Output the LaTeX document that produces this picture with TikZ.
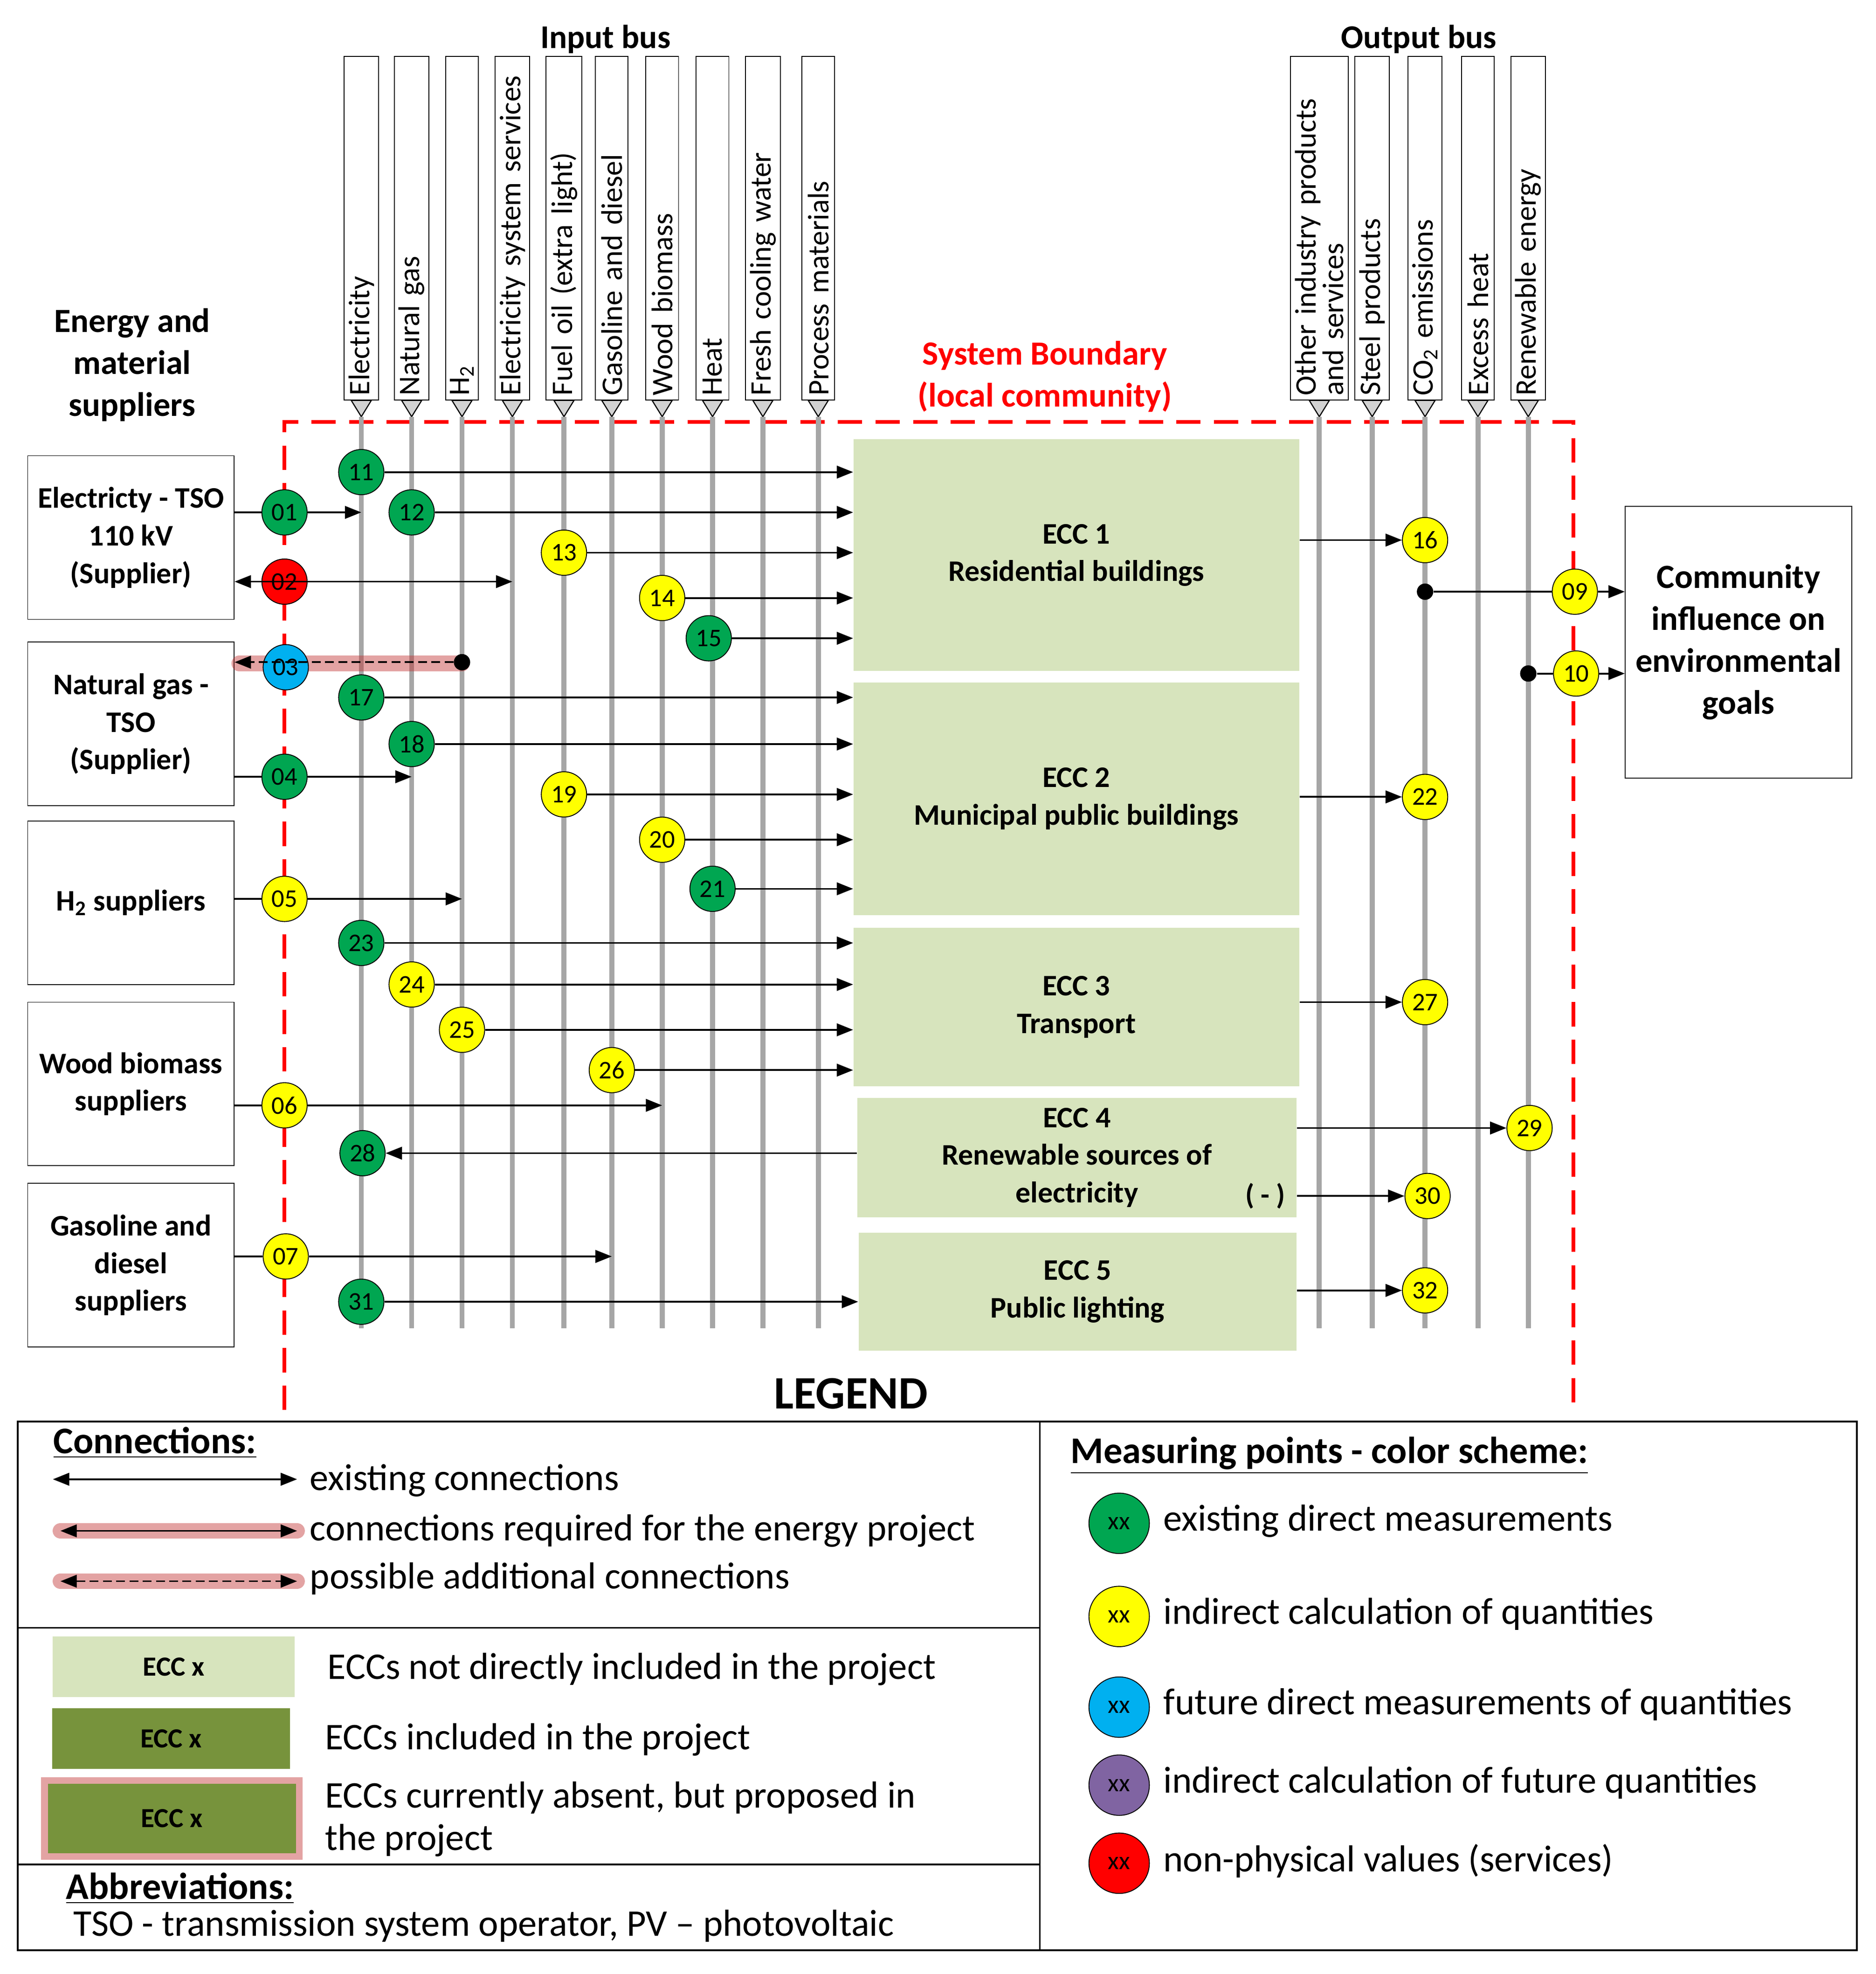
\documentclass[tikz,border=0pt]{standalone}
\usepackage{fontspec}
\setmainfont{Carlito}
\usetikzlibrary{arrows.meta,calc}
\definecolor{mgreen}{HTML}{00A651}
\definecolor{myellow}{HTML}{FFFF00}
\definecolor{mblue}{HTML}{00B0F0}
\definecolor{mpurple}{HTML}{8064A2}
\definecolor{mred}{HTML}{FF0000}
\definecolor{ecclight}{HTML}{D7E4BD}
\definecolor{eccdark}{HTML}{77933C}
\definecolor{busgray}{HTML}{A6A6A6}
\tikzset{
 bus/.style={draw,rotate=90,anchor=west,minimum height=0.52cm,text width=5.32cm,align=left,inner sep=2pt,font=\fontsize{13.5}{12}\selectfont},
 tri/.style={draw,fill=gray!35,line width=0.5pt},
 busline/.style={busgray,line width=2.3pt},
 sup/.style={draw,minimum width=3.28cm,minimum height=2.6cm,align=center,font=\bfseries\fontsize{13.5}{17}\selectfont},
 ecc/.style={fill=ecclight,align=center,font=\bfseries\fontsize{13.5}{17}\selectfont,inner sep=0},
 mp/.style={circle,draw,minimum size=0.72cm,inner sep=0,font=\fontsize{11.5}{11}\selectfont},
 G/.style={mp,fill=mgreen}, Y/.style={mp,fill=myellow}, B/.style={mp,fill=mblue},
 R/.style={mp,fill=mred}, P/.style={mp,fill=mpurple},
 arr/.style={-{Triangle[length=2.6mm,width=2mm]},line width=0.8pt},
 darr/.style={{Triangle[length=2.6mm,width=2mm]}-{Triangle[length=2.6mm,width=2mm]},line width=0.8pt},
 glow/.style={red!70!black!80,line width=7pt,opacity=0.45,line cap=round},
 dot/.style={circle,fill,inner sep=0,minimum size=0.26cm},
 lt/.style={anchor=west,font=\fontsize{17}{19}\selectfont,align=left},
}
\begin{document}
\begin{tikzpicture}[x=0.02cm,y=-0.02cm]
\useasboundingbox (0,0) rectangle (1490,1568);
% boundary
\draw[red,line width=1.7pt,dash pattern=on 11pt off 6pt] (226,1120) -- (226,335) -- (1250,335) -- (1250,1120);
% input bus
\node[font=\bfseries\fontsize{15}{15}\selectfont] (inbus) at (481,31) {Input bus};
\node[font=\bfseries\fontsize{15}{15}\selectfont] (outbus) at (1127,31) {Output bus};
\foreach \n/\x/\t in {1/287/Electricity,2/327/Natural gas,3/367/H\textsubscript{2},4/407/Electricity system services,5/448/Fuel oil (extra light),6/486/Gasoline and diesel,7/526/Wood biomass,8/566/Heat,9/606/Fresh cooling water,10/650/Process materials}{
 \node[bus] (b\n) at (\x,318) {\t};
 \draw[tri] (\x-8,318) -- (\x+8,318) -- (\x,331) -- cycle;
 \draw[busline] (\x,331) -- (\x,1055);
}
\node[bus,minimum height=0.8cm,font=\fontsize{13.5}{11}\selectfont] (o1) at (1048,318) {Other industry products\\and services};
\draw[tri] (1040,318) -- (1056,318) -- (1048,331) -- cycle;
\draw[busline] (1048,331) -- (1048,1055);
\foreach \n/\x/\t in {2/1090/Steel products,3/1132/CO\textsubscript{2} emissions,4/1174/Excess heat,5/1214/Renewable energy}{
 \node[bus] (o\n) at (\x,318) {\t};
 \draw[tri] (\x-8,318) -- (\x+8,318) -- (\x,331) -- cycle;
 \draw[busline] (\x,331) -- (\x,1055);
}
% titles
\node[align=center,font=\bfseries\fontsize{15.3}{19}\selectfont] (emsup) at (105,290) {Energy and\\material\\suppliers};
\node[align=center,text=red,font=\bfseries\fontsize{15.3}{19}\selectfont] (sb) at (830,299) {System Boundary\\(local community)};
% suppliers
\node[sup] (s1) at (104,427) {Electricty - TSO\\110 kV\\(Supplier)};
\node[sup] (s2) at (104,575) {Natural gas -\\TSO\\(Supplier)};
\node[sup] (s3) at (104,717) {H\textsubscript{2} suppliers};
\node[sup] (s4) at (104,861) {Wood biomass\\suppliers};
\node[sup] (s5) at (104,1005) {Gasoline and\\diesel\\suppliers};
\node[draw,minimum width=3.6cm,minimum height=4.32cm,align=center,font=\bfseries\fontsize{15.3}{19}\selectfont] (com) at (1381,510) {Community\\influence on\\environmental\\goals};
% ECC boxes
\node[ecc,minimum width=7.08cm,minimum height=3.68cm] (e1) at (855,441) {ECC 1\\Residential buildings};
\node[ecc,minimum width=7.08cm,minimum height=3.7cm] (e2) at (855,634.5) {ECC 2\\Municipal public buildings};
\node[ecc,minimum width=7.08cm,minimum height=2.52cm] (e3) at (855,800) {ECC 3\\Transport};
\node[ecc,minimum width=6.98cm,minimum height=1.9cm] (e4) at (855.5,919.5) {ECC 4\\Renewable sources of\\electricity};
\node[ecc,minimum width=6.96cm,minimum height=1.88cm] (e5) at (856,1026) {ECC 5\\Public lighting};
\node[font=\bfseries\fontsize{13}{13}\selectfont] (minus) at (1005,950) {( - )};
% glow for 03
\draw[glow] (190,527) -- (367,527);
% measuring points
\node[G] (n11) at (287,375) {11};
\node[G] (n01) at (226,407) {01};
\node[G] (n12) at (327,407) {12};
\node[R] (n02) at (226,462) {02};
\node[Y] (n13) at (448,439) {13};
\node[Y] (n14) at (526,475) {14};
\node[G] (n15) at (563,507) {15};
\node[B] (n03) at (227,530) {03};
\node[G] (n17) at (287,554) {17};
\node[G] (n18) at (327,591) {18};
\node[G] (n04) at (226,617) {04};
\node[Y] (n19) at (448,631) {19};
\node[Y] (n20) at (526,667) {20};
\node[G] (n21) at (566,706) {21};
\node[Y] (n05) at (226,714) {05};
\node[G] (n23) at (287,749) {23};
\node[Y] (n24) at (327,782) {24};
\node[Y] (n25) at (367,818) {25};
\node[Y] (n26) at (486,850) {26};
\node[Y] (n06) at (226,878) {06};
\node[G] (n28) at (288,916) {28};
\node[Y] (n07) at (227,998) {07};
\node[G] (n31) at (287,1034) {31};
\node[Y] (n16) at (1132,429) {16};
\node[Y] (n09) at (1251,470) {09};
\node[Y] (n10) at (1252,535) {10};
\node[Y] (n22) at (1132,633) {22};
\node[Y] (n27) at (1132,796) {27};
\node[Y] (n29) at (1215,896) {29};
\node[Y] (n30) at (1134,950) {30};
\node[Y] (n32) at (1132,1025) {32};
\node[dot] (d03) at (367,526) {};
\node[dot] (d09) at (1132,470) {};
\node[dot] (d10) at (1214,535) {};
% arrows to ECCs
\foreach \c/\e in {n11/e1,n12/e1,n13/e1,n14/e1,n15/e1,n17/e2,n18/e2,n19/e2,n20/e2,n21/e2,n23/e3,n24/e3,n25/e3,n26/e3,n31/e5}
 \draw[arr] (\c) -- (\e.west |- \c);
% supplier arrows
\draw[line width=0.8pt] (s1.east|-n01) -- (n01);
\coordinate (t01) at (287,407); \draw[arr] (n01) -- (t01);
\coordinate (t02) at (407,462); \draw[darr] (s1.east|-n02) -- (t02);
\draw[arr,dash pattern=on 4pt off 2pt] (d03) -- (s2.east|-d03);
\draw[line width=0.8pt] (s2.east|-n04) -- (n04);
\coordinate (t04) at (327,617); \draw[arr] (n04) -- (t04);
\draw[line width=0.8pt] (s3.east|-n05) -- (n05);
\coordinate (t05) at (367,714); \draw[arr] (n05) -- (t05);
\draw[line width=0.8pt] (s4.east|-n06) -- (n06);
\coordinate (t06) at (526,878); \draw[arr] (n06) -- (t06);
\draw[line width=0.8pt] (s5.east|-n07) -- (n07);
\coordinate (t07) at (486,998); \draw[arr] (n07) -- (t07);
\draw[arr] (e4.west|-n28) -- (n28);
% outputs
\foreach \c/\e in {n16/e1,n22/e2,n27/e3,n29/e4,n30/e4,n32/e5}
 \draw[arr] (\e.east|-\c) -- (\c);
\draw[line width=0.8pt] (d09) -- (n09); \draw[arr] (n09) -- (com.west|-n09);
\draw[line width=0.8pt] (d10) -- (n10); \draw[arr] (n10) -- (com.west|-n10);
% LEGEND
\node[font=\bfseries\fontsize{21}{21}\selectfont] (legt) at (676,1107) {LEGEND};
\draw[line width=0.8pt] (14,1129) rectangle (1475,1549);
\draw[line width=0.8pt] (826,1129) -- (826,1549);
\draw[line width=0.8pt] (14,1293) -- (826,1293);
\draw[line width=0.8pt] (14,1481) -- (826,1481);
\node[font=\bfseries\fontsize{17}{17}\selectfont] (lconn) at (123,1146) {\underline{Connections:}};
\coordinate (la1) at (42,1175); \coordinate (lb1) at (236,1175);
\draw[darr] (la1) -- (lb1);
\node[lt] (lt1) at (240,1176) {existing connections};
\coordinate (la2) at (48,1216); \coordinate (lb2) at (236,1216);
\draw[glow] (la2) -- (lb2);
\draw[darr] (la2) -- (lb2);
\node[lt] (lt2) at (240,1216) {connections required for the energy project};
\coordinate (la3) at (48,1256); \coordinate (lb3) at (236,1256);
\draw[glow] (la3) -- (lb3);
\draw[darr,dash pattern=on 4pt off 2pt] (la3) -- (lb3);
\node[lt] (lt3) at (240,1254) {possible additional connections};
\node[ecc,minimum width=3.84cm,minimum height=0.96cm,font=\bfseries\fontsize{12.5}{12}\selectfont] (le1) at (138,1324) {ECC x};
\node[lt] (lt4) at (254,1326) {ECCs not directly included in the project};
\node[ecc,fill=eccdark,minimum width=3.78cm,minimum height=0.96cm,font=\bfseries\fontsize{12.5}{12}\selectfont] (le2) at (136,1381) {ECC x};
\node[lt] (lt5) at (252,1382) {ECCs included in the project};
\draw[red!70!black!80,opacity=0.45,line width=6pt] (38,1417) rectangle (235,1472);
\node[ecc,fill=eccdark,minimum width=3.94cm,minimum height=1.1cm,font=\bfseries\fontsize{12.5}{12}\selectfont] (le3) at (136.5,1444.5) {ECC x};
\node[lt] (lt6) at (252,1445) {ECCs currently absent, but proposed in\\the project};
\node[font=\bfseries\fontsize{17}{17}\selectfont] (labbr) at (143,1500) {\underline{Abbreviations:}};
\node[lt] (lt7) at (52,1530) {TSO - transmission system operator, PV -- photovoltaic};
\node[font=\bfseries\fontsize{17}{17}\selectfont] (lmp) at (1056,1156) {\underline{Measuring points - color scheme:}};
\foreach \s/\y/\t/\nm in {G/1210/existing direct measurements/m1,Y/1284/indirect calculation of quantities/m2,B/1356/future direct measurements of quantities/m3,P/1418/indirect calculation of future quantities/m4,R/1480/non-physical values (services)/m5}{
 \node[\s,minimum size=0.96cm] (\nm) at (889,\y) {xx};
 \node[lt] (\nm t) at (918,\y-2) {\t};
}
\end{tikzpicture}
\end{document}
